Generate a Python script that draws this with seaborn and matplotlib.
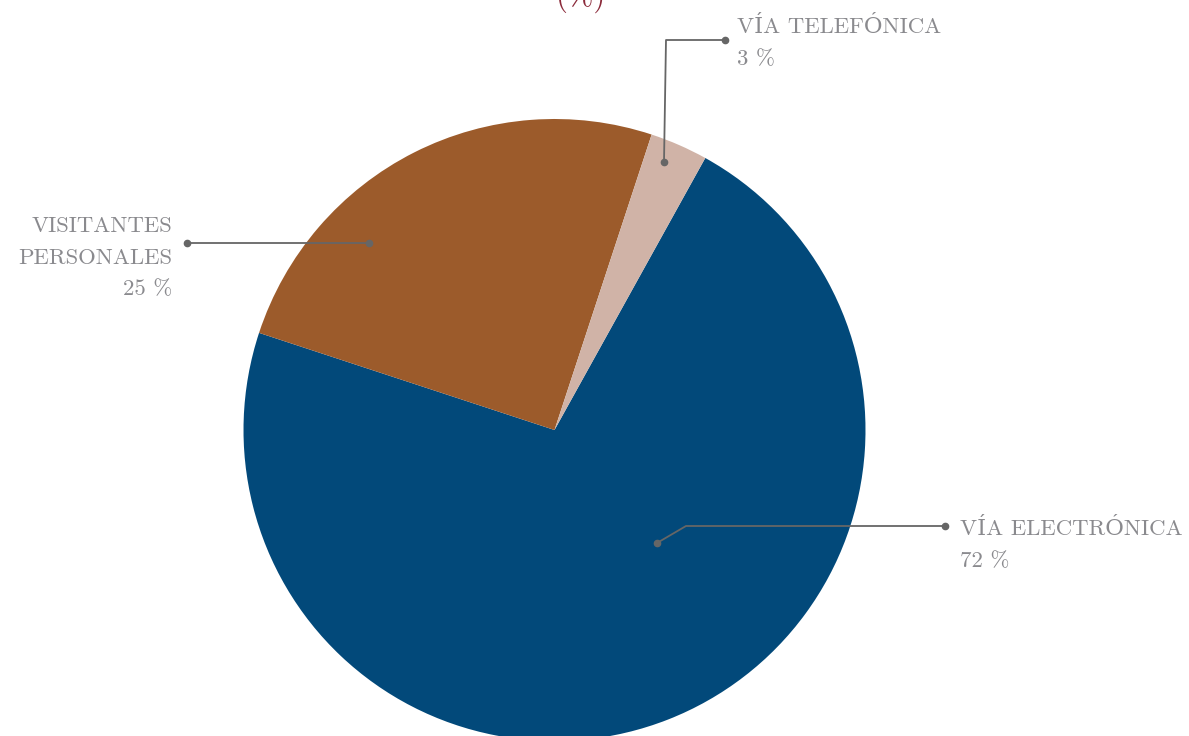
import matplotlib
matplotlib.use("Agg")
import matplotlib.pyplot as plt
import seaborn as sns

sns.set_theme(style="white")
plt.rcParams['font.family'] = ['cmr10', 'DejaVu Serif']
plt.rcParams['axes.unicode_minus'] = False

# data
categories = ["VÍA ELECTRÓNICA", "VISITANTES\nPERSONALES", "VÍA TELEFÓNICA"]
values = [72, 25, 3]
colors = ["#02497A", "#9C5B2B", "#D0B3A7"]

W, H = 1189, 736
fig = plt.figure(figsize=(W / 100, H / 100), dpi=100)
ax = fig.add_axes([0, 0, 1, 1])

cx, cy, R = 554.5, H - 430, 311
ax.pie(values, colors=colors, startangle=61, counterclock=False,
       center=(cx, cy), radius=R, frame=False,
       wedgeprops=dict(linewidth=0))
ax.set_xlim(0, W)
ax.set_ylim(0, H)
ax.set_aspect('equal')
ax.axis('off')

lc = "#666666"
tc = "#8A8A8E"
fs = 16.4
gap = 32


def connector(pts):
    xs = [p[0] for p in pts]
    ys = [H - p[1] for p in pts]
    ax.plot(xs, ys, color=lc, lw=1.3, solid_capstyle='butt', zorder=5)
    ax.plot([xs[0], xs[-1]], [ys[0], ys[-1]], 'o', color=lc, ms=4.5, zorder=6)


def label(x, y_first_baseline, lines, ha):
    for i, line in enumerate(lines):
        ax.text(x, H - (y_first_baseline + i * gap), line, ha=ha, va='baseline',
                color=tc, fontsize=fs)


# Vía electrónica
connector([(657, 543), (686, 526), (945, 526)])
label(960, 535, categories[0].split("\n") + [f"{values[0]} %"], 'left')

# Vía telefónica
connector([(664, 162), (666, 40), (725, 40)])
label(737, 33, categories[2].split("\n") + [f"{values[2]} %"], 'left')

# Visitantes personales
connector([(369, 243), (187, 243)])
label(172, 231.5, categories[1].split("\n") + [f"{values[1]} %"], 'right')

# title (cut off at top)
ax.text(581, H - 13, "(%)", ha='center', va='bottom', color="#8B2A3A",
        fontsize=22, style='italic', clip_on=False)

fig.savefig("out.png", dpi=100)
